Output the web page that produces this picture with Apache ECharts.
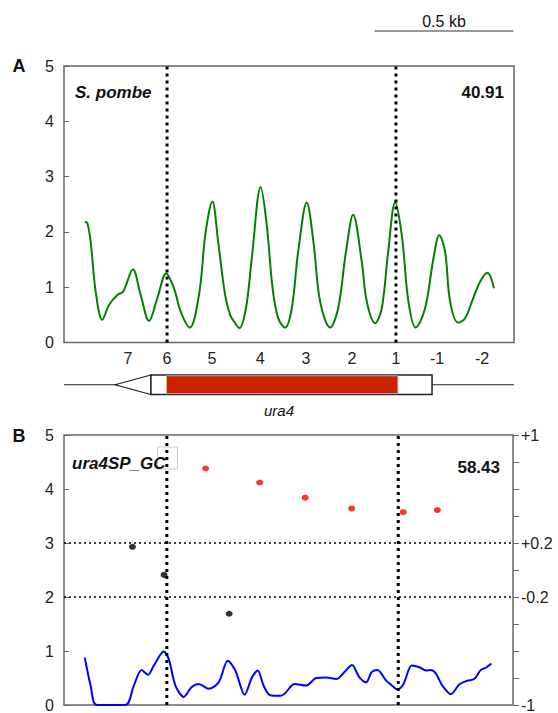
<!DOCTYPE html>
<html>
<head>
<meta charset="utf-8">
<script src="https://cdn.jsdelivr.net/npm/echarts@6/dist/echarts.min.js"></script>
<style>
html,body{margin:0;padding:0;background:#fff;}
#c{width:558px;height:713px;}
</style>
</head>
<body>
<div id="c"></div>
<script>
// ---------- DATA (positions in bp along the locus) ----------
const xMin = 0, xMax = 1620;
// Panel A: nucleosome occupancy (S. pombe)
const greenPos = [75,84,96,114,138,162,192,213,248,276,306,336,368,396,420,453,486,510,534,555,580,598,612,631,655,676,708,730,751,771,796,820,843,874,898,922,958,987,1015,1041,1072,1090,1120,1144,1167,1192,1216,1240,1266,1300,1330,1351,1372,1390,1419,1444,1473,1498,1524,1548];
const greenVal = [2.18,2.16,1.82,0.92,0.41,0.68,0.86,0.92,1.32,0.86,0.39,0.80,1.25,0.98,0.56,0.27,0.86,2.00,2.55,1.82,0.86,0.50,0.38,0.26,0.62,1.52,2.81,2.12,0.98,0.44,0.27,0.62,1.64,2.53,1.82,0.74,0.27,0.62,1.64,2.31,1.46,0.74,0.35,0.62,1.64,2.53,1.94,0.74,0.27,0.62,1.52,1.94,1.64,0.74,0.36,0.44,0.80,1.10,1.26,0.98];
// nucleosome tick labels
const nucPos = [230,371,533,706,871,1037,1195,1343,1505];
const nucNames = ['7','6','5','4','3','2','1','-1','-2'];
// dotted markers (ORF start / end)
const cutsA = [371,1195];
const cutsB = [371,1206];
// gene model: arrow tip, box start, CDS start, CDS end, box end
const geneCoords = [184,313,369,1202,1325];
const geneName = 'ura4';
// scale bar (0.5 kb)
const scaleBar = [1118,1618];
// Panel B: GC profile (blue) and nucleosome scores
const bluePos = [75,96,118,222,252,280,303,324,360,378,402,432,460,486,522,558,591,618,652,678,699,720,744,780,796,832,874,910,946,982,1012,1039,1066,1090,1110,1131,1162,1177,1203,1225,1255,1282,1306,1324,1342,1365,1396,1426,1455,1480,1504,1522,1542];
const blueVal = [0.88,0.36,0,0,0.36,0.65,0.56,0.73,0.99,0.85,0.36,0.15,0.33,0.39,0.30,0.42,0.82,0.64,0.19,0.51,0.64,0.36,0.18,0.17,0.21,0.39,0.36,0.50,0.51,0.48,0.61,0.74,0.51,0.42,0.61,0.65,0.45,0.39,0.29,0.39,0.73,0.70,0.64,0.65,0.58,0.36,0.20,0.38,0.45,0.48,0.65,0.69,0.77];
const redPos = [511,706,870,1038,1224,1347];
const redVal = [4.38,4.12,3.84,3.64,3.57,3.61];
const blackPos = [247,361,596];
const blackVal = [2.93,2.41,1.69];
const thresholds = [3,2];
const rightTickVals = [1,0.2,-0.2,-1];
const rightTickNames = ['+1','+0.2','-0.2','-1'];
const titleA = 'S. pombe', scoreA = '40.91';
const titleB = 'ura4SP_GC', scoreB = '58.43';

// ---------- CHART ----------
const FONT = '"Liberation Sans", Arial, sans-serif';
const chart = echarts.init(document.getElementById('c'), null, {renderer:'svg'});
const pairs = (xs, ys) => xs.map((x,i)=>[x, ys[i]]);
const vline = (x, xi, yi, ymax) => ({
  type:'line', xAxisIndex:xi, yAxisIndex:yi, data:[[x,0],[x,ymax]], symbol:'none', silent:true, z:6,
  lineStyle:{color:'#000', width:3, type:[3,4], cap:'butt'}
});
const hline = (y, xi, yi) => ({
  type:'line', xAxisIndex:xi, yAxisIndex:yi, data:[[xMin,y],[xMax,y]], symbol:'none', silent:true, z:4,
  lineStyle:{color:'#000', width:1.5, type:[2,3], cap:'butt'}
});
const leftY = (gi) => ({
  type:'value', gridIndex:gi, min:0, max:5, interval:1,
  axisLine:{show:false}, splitLine:{show:false},
  axisTick:{show:true, inside:true, length:5, lineStyle:{color:'#666', width:1}},
  axisLabel:{fontSize:16, color:'#222', fontFamily:FONT, margin:10}
});

const option = {
  animation:false,
  backgroundColor:'#fff',
  grid:[
    {left:64, top:66, width:450, height:276.5, show:true, borderColor:'#666', borderWidth:1.5, backgroundColor:'transparent'},
    {left:64, top:375, width:450, height:19.5, show:false},
    {left:64, top:435, width:449, height:275, show:true, borderColor:'#666', borderWidth:1.5, backgroundColor:'transparent'}
  ],
  xAxis:[
    {type:'value', gridIndex:0, min:xMin, max:xMax,
      axisLine:{show:false}, splitLine:{show:false},
      axisTick:{show:false, customValues:nucPos},
      axisLabel:{show:true, customValues:nucPos, fontSize:16, color:'#222', fontFamily:FONT, margin:8,
        formatter:(v)=>{const i=nucPos.indexOf(v); return i>=0?nucNames[i]:'';}}},
    {type:'value', gridIndex:1, min:xMin, max:xMax, show:false},
    {type:'value', gridIndex:2, min:xMin, max:xMax, axisLine:{show:false}, axisTick:{show:false}, axisLabel:{show:false}, splitLine:{show:false}}
  ],
  yAxis:[
    leftY(0),
    {type:'value', gridIndex:1, min:0, max:1, show:false},
    leftY(2),
    {type:'value', gridIndex:2, min:-1, max:1, interval:0.2, position:'right',
      axisLine:{show:false}, splitLine:{show:false},
      axisTick:{show:true, inside:false, length:6, lineStyle:{color:'#666', width:1}},
      axisLabel:{fontSize:16, color:'#222', fontFamily:FONT, margin:8,
        formatter:(v)=>{for(let i=0;i<rightTickVals.length;i++){if(Math.abs(v-rightTickVals[i])<1e-6) return rightTickNames[i];} return '';}}}
  ],
  series:[
    {type:'line', xAxisIndex:0, yAxisIndex:0, data:pairs(greenPos,greenVal), smooth:0.35, symbol:'none',
      lineStyle:{color:'#008000', width:2}, z:3},
    ...cutsA.map(x=>vline(x,0,0,5)),
    {type:'custom', xAxisIndex:1, yAxisIndex:1, clip:false, silent:true, data:[geneCoords],
      renderItem:(params, api)=>{
        const tip=api.value(0), bs=api.value(1), cs=api.value(2), ce=api.value(3), be=api.value(4);
        const L=api.coord([xMin,0.5]), R=api.coord([xMax,0.5]);
        const T=api.coord([tip,0.5]);
        const b0t=api.coord([bs,1]), b0b=api.coord([bs,0]);
        const c0=api.coord([cs,1]), c1=api.coord([ce,0]);
        const e1=api.coord([be,0]);
        return {type:'group', children:[
          {type:'line', shape:{x1:L[0],y1:L[1],x2:R[0],y2:R[1]}, style:{stroke:'#222', lineWidth:1}},
          {type:'polygon', shape:{points:[[T[0],T[1]],[b0t[0],b0t[1]],[b0b[0],b0b[1]]]}, style:{fill:'#fff', stroke:'#222', lineWidth:1.2}},
          {type:'rect', shape:{x:b0t[0], y:b0t[1], width:e1[0]-b0t[0], height:b0b[1]-b0t[1]}, style:{fill:'#fff', stroke:'#222', lineWidth:1.5}},
          {type:'rect', shape:{x:c0[0], y:c0[1]+0.8, width:c1[0]-c0[0], height:c1[1]-c0[1]-1.6}, style:{fill:'#cc2200', stroke:'#bbb', lineWidth:0.8}}
        ]};
      }},
    {type:'line', xAxisIndex:2, yAxisIndex:2, data:pairs(bluePos,blueVal), smooth:0.3, symbol:'none',
      lineStyle:{color:'#0000ff', width:2}, z:3},
    ...thresholds.map(y=>hline(y,2,2)),
    ...cutsB.map(x=>vline(x,2,2,5)),
    {type:'scatter', xAxisIndex:2, yAxisIndex:2, data:pairs(redPos,redVal), symbol:'circle', symbolSize:[7,6],
      itemStyle:{color:'#ff0000'}, z:7},
    {type:'scatter', xAxisIndex:2, yAxisIndex:2, data:pairs(blackPos,blackVal), symbol:'circle', symbolSize:[7,6],
      itemStyle:{color:'#000'}, z:7}
  ]
};
chart.setOption(option);

// text and scale bar overlays
const sb0 = chart.convertToPixel({xAxisIndex:0}, scaleBar[0]);
const sb1 = chart.convertToPixel({xAxisIndex:0}, scaleBar[1]);
const txt = (text, x, y, font, align) => ({type:'text', silent:true, z:20,
  style:{text, x, y, font, fill:'#111', align, verticalAlign:'middle', textAlign:align, textVerticalAlign:'middle'}});
chart.setOption({graphic:[
  {type:'line', shape:{x1:sb0, y1:31, x2:sb1, y2:31}, style:{stroke:'#777', lineWidth:1.3}},
  txt('0.5 kb', (sb0+sb1)/2, 21, '16px '+FONT, 'center'),
  txt('A', 19, 66, 'bold 18px '+FONT, 'center'),
  txt(titleA, 75, 92.5, 'italic bold 17px '+FONT, 'left'),
  txt(scoreA, 504, 92, 'bold 17px '+FONT, 'right'),
  txt(geneName, 279, 410, 'italic 15px '+FONT, 'center'),
  txt('B', 19, 436, 'bold 18px '+FONT, 'center'),
  {type:'rect', shape:{x:157.5, y:447, width:20, height:22}, style:{fill:'none', stroke:'#ccc', lineWidth:1}, silent:true, z:19},
  txt(titleB, 72, 463, 'italic bold 17px '+FONT, 'left'),
  txt(scoreB, 500, 467, 'bold 17px '+FONT, 'right')
]});
</script>
</body>
</html>
